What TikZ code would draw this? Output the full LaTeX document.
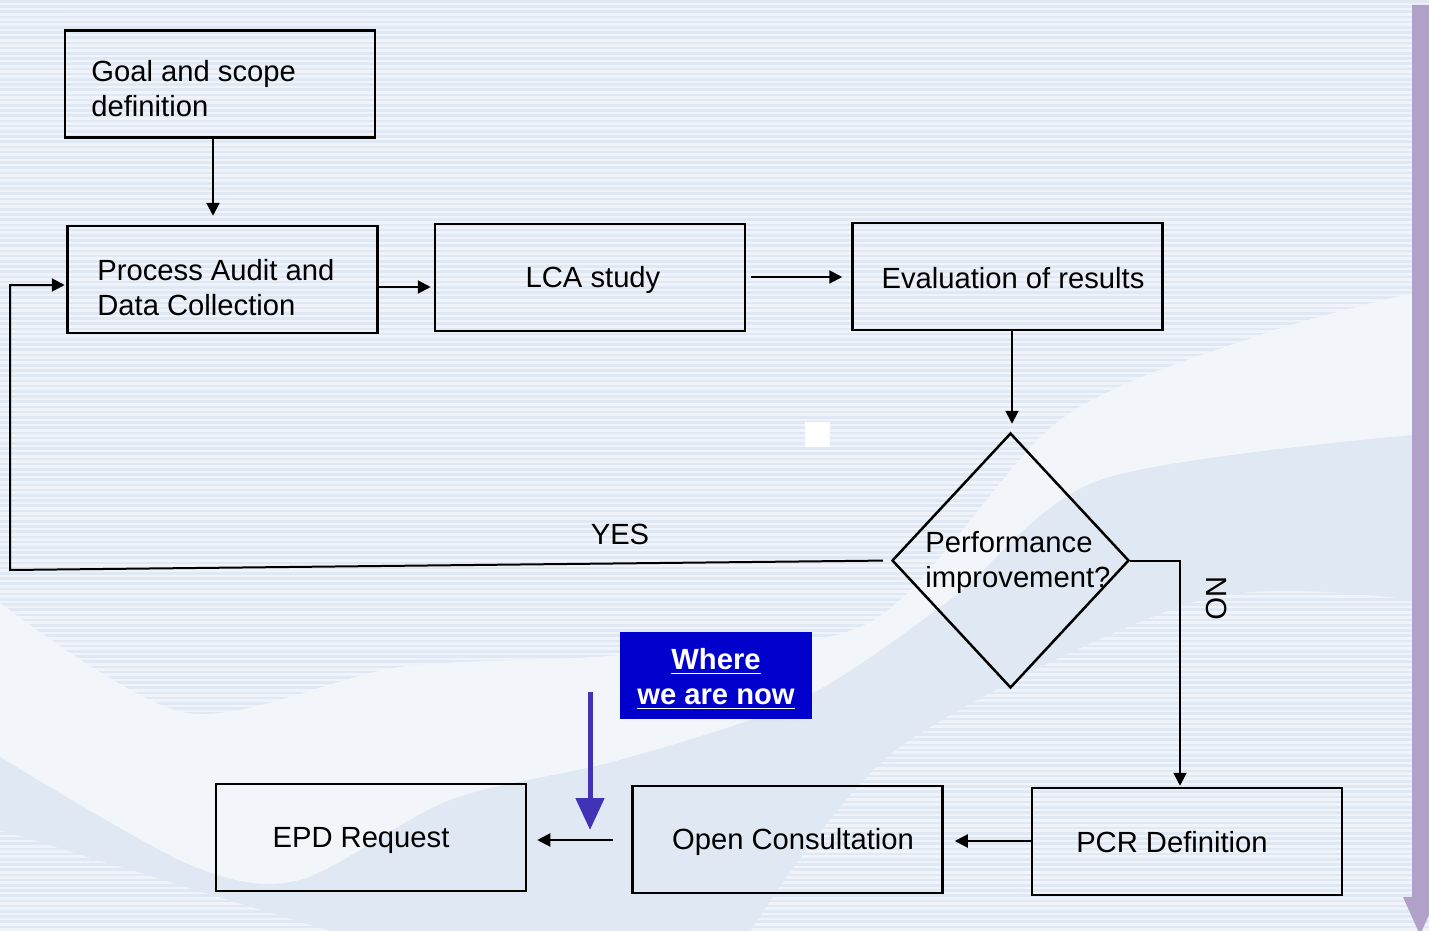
\documentclass[tikz,border=0pt]{standalone}
\usepackage{fontspec}
\setmainfont{Liberation Sans}
\usetikzlibrary{arrows.meta,shapes.geometric,calc}
\definecolor{bgbase}{HTML}{F0F4FA}
\definecolor{bgstripe}{HTML}{E0E8F3}
\definecolor{bglight}{HTML}{F2F6FB}
\definecolor{bgmid}{HTML}{E0E9F3}
\definecolor{wherefill}{HTML}{0000CC}
\definecolor{bluearrow}{HTML}{4232B5}
\definecolor{purplearrow}{HTML}{B1A1C8}
\begin{document}
\begin{tikzpicture}[x=0.5pt,y=-0.5pt,
  box/.style={draw=black,line width=1.25pt,minimum width=155pt,minimum height=53.5pt,inner sep=0pt},
  txt/.style={font=\fontsize{14.6}{17.5}\selectfont,inner sep=0pt,align=left},
  conn/.style={draw=black,line width=1pt,-{Triangle[length=6.5pt,width=6.5pt]}},
  ]
\useasboundingbox (0,0) rectangle (1429,931);
% background
\fill[bgbase] (0,0) rectangle (1429,931);
\foreach \i in {0,...,179} { \fill[bgstripe] (0,\i*5.2) rectangle (1429,\i*5.2+2.6); }
\fill[bglight] plot[smooth] coordinates {(0,603) (187,713) (400,667) (620,655) (870,622) (1060,420) (1260,335) (1413,293)}
  -- plot[smooth] coordinates {(1413,435) (1100,480) (950,600) (800,700) (620,760) (450,800) (300,880) (190,865) (0,757)} -- cycle;
\fill[bgmid] plot[smooth] coordinates {(0,757) (190,865) (300,880) (450,800) (620,760) (800,700) (950,600) (1100,480) (1413,435)}
  -- plot[smooth] coordinates {(1413,600) (1200,600) (900,747) (750,931)}
  -- (330,931) -- (0,830) -- cycle;
\fill[white] (805,422) rectangle (830,447);
% purple progress arrow
\fill[purplearrow] (1412,5) -- (1429,5) -- (1429,897) -- (1437,897) -- (1420,935) -- (1403,897) -- (1412,897) -- cycle;

% boxes
\node[box] (goal) at (220,84) {};
\node[box] (proc) at (222.5,279.5) {};
\node[box] (lca) at (590,277.5) {};
\node[box] (eval) at (1007.5,276.5) {};
\node[box] (epd) at (371,837.5) {};
\node[box] (open) at (787.5,839.5) {};
\node[box] (pcr) at (1187,841.5) {};
\node[diamond,draw=black,line width=1.25pt,minimum width=118.5pt,minimum height=127.5pt,inner sep=0pt] (dia) at (1010.5,560.5) {};

% texts
\node[txt,anchor=west] (goalT) at (91,89) {Goal and scope\\definition};
\node[txt,anchor=west] (procT) at (97,288) {Process Audit and\\Data Collection};
\node[txt] (lcaT) at (593,280) {LCA study};
\node[txt] (evalT) at (1013,278) {Evaluation of results};
\node[txt,anchor=west] (diaT) at (925,562) {Performance\\improvement?};
\node[txt] (epdT) at (361,840) {EPD Request};
\node[txt] (openT) at (793,842) {Open Consultation};
\node[txt] (pcrT) at (1172,842) {PCR Definition};
\node[txt] (yes) at (620,534) {YES};
\node[txt,rotate=-90] (no) at (1217,598) {NO};

% where we are now
\node[fill=wherefill,minimum width=96pt,minimum height=43.5pt,inner sep=0pt] (where) at (716,675.5) {};
\node[inner sep=0pt,text=white,font=\fontsize{14.6}{17.5}\selectfont\bfseries,align=center] (whereT) at (716,679)
  {\underline{Where}\\\underline{we are now}};
\coordinate (bs) at (590,692);
\coordinate (be) at (590,830);
\draw[bluearrow,line width=2.5pt,-{Triangle[length=16pt,width=14pt]}] (bs) -- (be);

% connectors
\coordinate (yesc) at (10,570);
\draw[conn,shorten >=4.5pt] (goal.south -| 213,0) -- (proc.north -| 213,0);
\draw[conn,shorten >=1.5pt] (proc.east |- 0,287) -- (lca.west |- 0,287);
\draw[conn,shorten <=2.5pt,shorten >=4.5pt] (lca.east |- 0,277) -- (eval.west |- 0,277);
\draw[conn,shorten >=4pt] (eval.south -| 1012,0) -- (dia.north -| 1012,0);
\draw[conn,shorten <=4pt,shorten >=0.75pt] (dia.west) -- (yesc) |- (proc.west |- 0,285);
\draw[conn,shorten >=0.5pt] (dia.east) -| (pcr.north -| 1180,0);
\draw[conn,shorten >=5.5pt] (pcr.west |- 0,841) -- (open.east |- 0,841);
\draw[conn,shorten <=9pt,shorten >=5pt] (open.west |- 0,840) -- (epd.east |- 0,840);
\end{tikzpicture}
\end{document}
